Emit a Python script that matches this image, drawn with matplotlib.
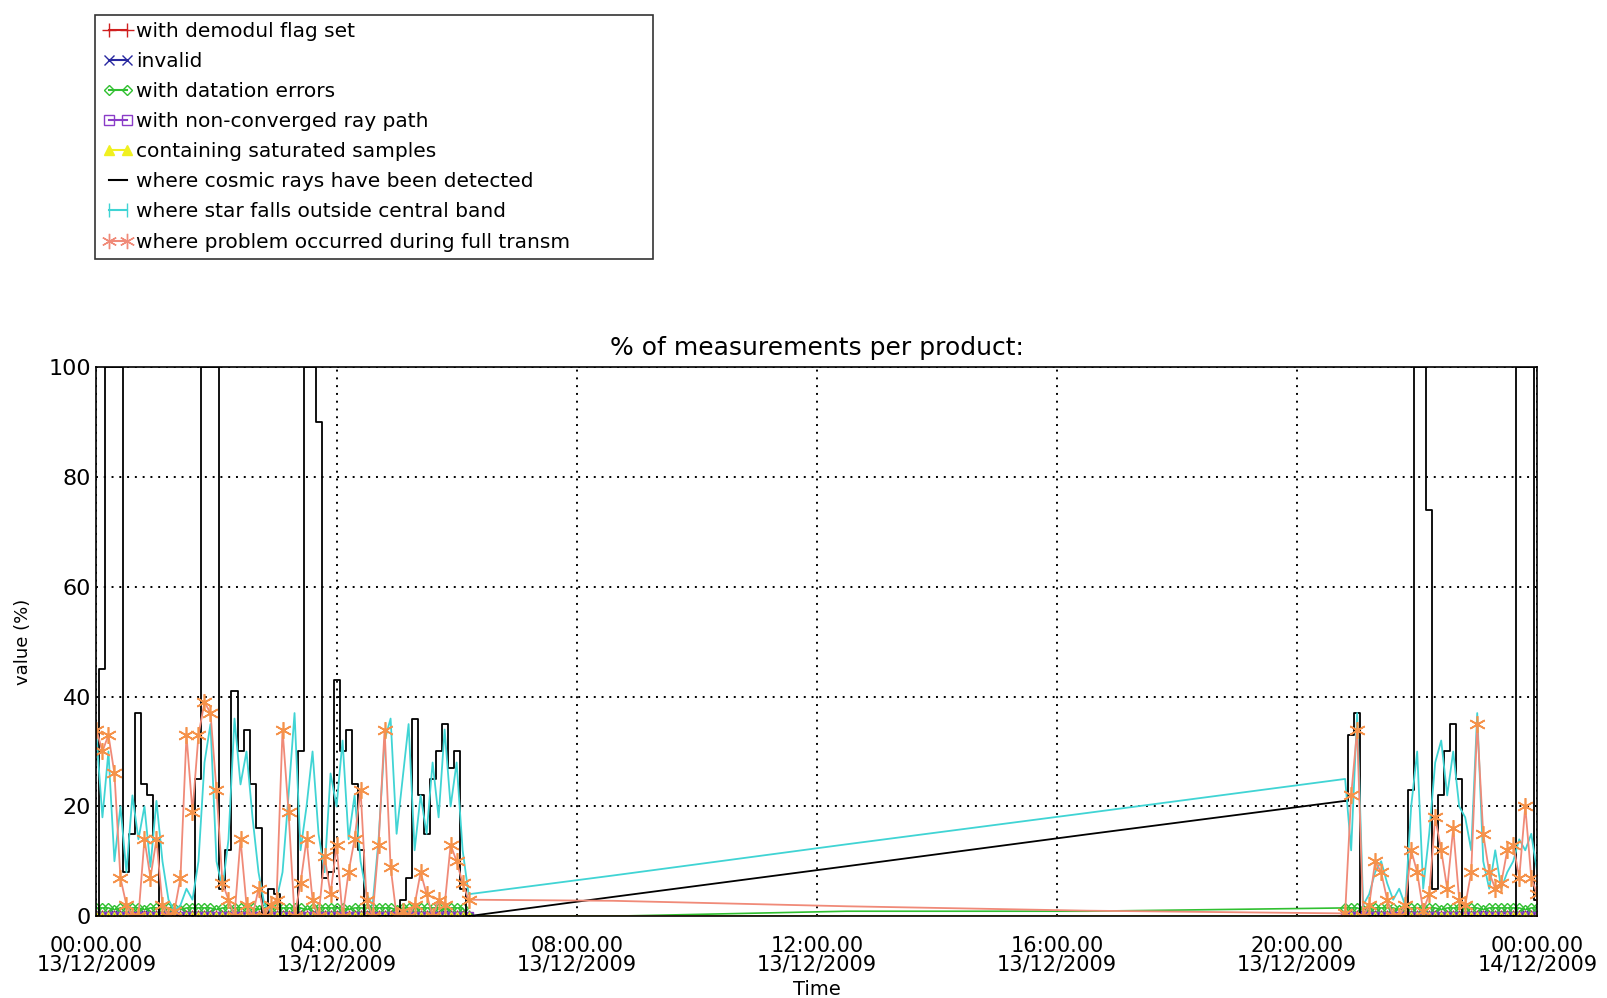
import numpy as np
import pandas as pd
import matplotlib
matplotlib.use("Agg")
import matplotlib.pyplot as plt
import matplotlib.dates as mdates
from matplotlib.lines import Line2D

# sample times (hours after 13/12/2009 00:00) - first pass, data gap, second pass
t1 = [0.0, 0.1, 0.2, 0.3, 0.4, 0.5, 0.6, 0.7, 0.8, 0.9,
      1.0, 1.1, 1.2, 1.3, 1.4, 1.5, 1.6, 1.7, 1.8, 1.9,
      2.0, 2.1, 2.2, 2.3, 2.4, 2.5, 2.6, 2.7, 2.8, 2.9,
      3.0, 3.1, 3.2, 3.3, 3.4, 3.5, 3.6, 3.7, 3.8, 3.9,
      4.0, 4.1, 4.2, 4.3, 4.4, 4.5, 4.6, 4.7, 4.8, 4.9,
      5.0, 5.1, 5.2, 5.3, 5.4, 5.5, 5.6, 5.7, 5.8, 5.9,
      6.0, 6.1, 6.2]
tg = [8.6, 12.5, 16.5]
t2 = [20.8, 20.9, 21.0, 21.1, 21.2, 21.3, 21.4, 21.5, 21.6, 21.7,
      21.8, 21.9, 22.0, 22.1, 22.2, 22.3, 22.4, 22.5, 22.6, 22.7,
      22.8, 22.9, 23.0, 23.1, 23.2, 23.3, 23.4, 23.5, 23.6, 23.7,
      23.8, 23.9, 24.0]

# where cosmic rays have been detected
cosmic1 = [0, 45, 100, 100, 100, 8, 15, 37, 24, 22,
           14, 0, 0, 0, 0, 0, 0, 25, 100, 100,
           100, 5, 12, 41, 30, 34, 24, 16, 0, 5,
           4, 0, 0, 0, 30, 100, 100, 90, 7, 8,
           43, 30, 34, 24, 12, 0, 0, 0, 0, 0,
           0, 3, 7, 36, 22, 15, 25, 30, 35, 27,
           30, 5, 0]
cosmicg = [3.5, 9.1, 14.9]
cosmic2 = [21, 33, 37, 0, 0, 0, 0, 0, 0, 0,
           0, 23, 100, 100, 74, 5, 22, 30, 35, 25,
           0, 0, 0, 0, 0, 0, 0, 0, 0, 100,
           100, 100, 3]

# where star falls outside central band
star1 = [33, 18, 30, 10, 20, 8, 22, 14, 20, 9,
         21, 10, 3, 1, 2, 5, 3, 10, 28, 35,
         10, 5, 14, 36, 24, 30, 18, 8, 2, 1,
         3, 8, 22, 37, 12, 20, 30, 15, 8, 26,
         20, 32, 14, 22, 10, 4, 2, 14, 32, 36,
         15, 25, 35, 12, 22, 15, 28, 18, 34, 20,
         28, 12, 4]
starg = [7.4, 13.1, 18.8]
star2 = [25, 12, 37, 2, 4, 8, 10, 6, 3, 5,
         2, 20, 30, 5, 15, 28, 32, 22, 30, 20,
         18, 12, 37, 10, 5, 12, 5, 8, 10, 14,
         12, 15, 8]

# where problem occurred during full transm
transm1 = [34, 30, 33, 26, 7, 2, 0, 0, 14, 7,
           14, 2, 0, 1, 7, 33, 19, 33, 39, 37,
           23, 6, 3, 0, 14, 2, 0, 5, 0, 2,
           3, 34, 19, 0, 6, 14, 3, 0, 11, 4,
           13, 0, 8, 14, 23, 3, 0, 13, 34, 9,
           0, 1, 0, 2, 8, 4, 0, 3, 2, 13,
           10, 6, 3]
transmg = [2.8, 1.8, 1.0]
transm2 = [0.5, 22, 34, 0, 2, 10, 8, 3, 0, 0,
           2, 12, 8, 1, 4, 18, 12, 5, 16, 3,
           2, 8, 35, 15, 8, 5, 6, 12, 13, 7,
           20, 7, 4]

# with datation errors
datation1 = [1.5, 1.5, 1.5, 1.2, 1.5, 1.5, 1.5, 1.5, 1.2, 1.5,
             1.5, 1.5, 1.5, 1.5, 1.2, 1.5, 1.5, 1.5, 1.5, 1.5,
             1.2, 1.5, 1.5, 1.5, 1.5, 1.5, 1.5, 1.2, 1.5, 1.5,
             1.5, 1.5, 1.5, 1.5, 1.5, 1.2, 1.5, 1.5, 1.5, 1.5,
             1.5, 1.5, 1.2, 1.5, 1.5, 1.5, 1.5, 1.5, 1.5, 1.5,
             1.2, 1.5, 1.5, 1.5, 1.5, 1.5, 1.5, 1.5, 1.2, 1.5,
             1.5, 1.5, 0.0]
datationg = [0.0, 0.9, 0.9]
datation2 = [1.5, 1.5, 1.5, 1.2, 1.5, 1.5, 1.5, 1.5, 1.5, 1.2,
             1.5, 1.5, 1.5, 1.5, 1.5, 1.5, 1.2, 1.5, 1.5, 1.5,
             1.5, 1.5, 1.5, 1.2, 1.5, 1.5, 1.5, 1.5, 1.5, 1.5,
             1.2, 1.5, 1.5]

# invalid
invalid1 = [0.5, 0, 0, 0.5, 0, 0, 0, 0, 0.5, 0,
            0, 0, 0.5, 0, 0, 0.5, 0, 0, 0, 0.5,
            0, 0, 0, 0.5, 0, 0, 0, 0, 0.5, 0,
            0, 0.5, 0, 0, 0, 0, 0.5, 0, 0, 0,
            0.5, 0, 0, 0, 0, 0.5, 0, 0, 0, 0.5,
            0, 0, 0, 0.5, 0, 0, 0, 0, 0.5, 0,
            0, 0.5, 0]
invalidg = [0, 0, 0]
invalid2 = [0, 0, 0, 0.5, 0, 0.5, 0, 0, 0.5, 0,
            0, 0.5, 0, 0, 0, 0.5, 0, 0, 0, 0,
            0.5, 0, 0, 0.5, 0, 0, 0.5, 0.5, 0, 0,
            0.5, 0, 0.5]

# with demodul flag set / non-converged ray path / saturated samples
demodul1 = [0] * len(t1)
demodulg = [0, 0, 0]
demodul2 = [0] * len(t2)
nonconv1 = [0] * len(t1)
nonconvg = [0, 0, 0]
nonconv2 = [0] * len(t2)
saturated1 = [0] * len(t1)
saturatedg = [0, 0, 0]
saturated2 = [0] * len(t2)

base = pd.Timestamp("2009-12-13 00:00:00")
hours = t1 + tg + t2
times = base + pd.to_timedelta(hours, unit="h")
n1, ng = len(t1), len(tg)
marked = list(range(n1)) + list(range(n1 + ng, len(hours)))

C_RED = "#d02020"
C_BLUE = "#2828a0"
C_GREEN = "#30c030"
C_PURPLE = "#8a3cc8"
C_YELLOW = "#f0f020"
C_CYAN = "#40d4d4"
C_SALMON = "#f08a78"
C_AST = "#f5924a"

fig = plt.figure(figsize=(16.07, 9.98), dpi=100)
ax = fig.add_axes([0.060, 0.082, 0.8966, 0.550])

ax.plot(times, demodul1 + demodulg + demodul2, color=C_RED, lw=1.2,
        marker="+", ms=8, markevery=marked)
ax.plot(times, invalid1 + invalidg + invalid2, color=C_BLUE, lw=1.2,
        marker="x", ms=6, markevery=marked)
ax.plot(times, datation1 + datationg + datation2, color=C_GREEN, lw=1.2,
        marker="D", ms=5, mfc="none", markevery=marked)
ax.plot(times, nonconv1 + nonconvg + nonconv2, color=C_PURPLE, lw=1.2,
        marker="s", ms=6, mfc="none", markevery=marked)
ax.plot(times, saturated1 + saturatedg + saturated2, color=C_YELLOW, lw=1.2,
        marker="^", ms=6, mfc="none", markevery=marked)

# cosmic rays: histogram style on the passes, straight line over the gap
cosmic = cosmic1 + cosmicg + cosmic2
ax.plot(times[:n1], cosmic1, color="black", lw=1.3, drawstyle="steps-mid")
ax.plot(times[n1 + ng:], cosmic2, color="black", lw=1.3, drawstyle="steps-mid")
ax.plot(times[n1 - 1:n1 + ng + 1], cosmic[n1 - 1:n1 + ng + 1], color="black", lw=1.3)

ax.plot(times, star1 + starg + star2, color=C_CYAN, lw=1.3)
ax.plot(times, transm1 + transmg + transm2, color=C_SALMON, lw=1.3,
        marker=(6, 2, 0), ms=12, mec=C_AST, mew=1.2, markevery=marked)

ax.set_xlim(base, base + pd.Timedelta(hours=24))
ax.set_ylim(0, 100)
ax.xaxis.set_major_locator(mdates.HourLocator(byhour=range(0, 24, 4)))
ax.xaxis.set_major_formatter(mdates.DateFormatter("%H:%M.%S\n%d/%m/%Y"))
ax.set_yticks([0, 20, 40, 60, 80, 100])
ax.grid(True, color="black", linestyle=(0, (1, 3)), linewidth=1.4)
ax.tick_params(axis="x", length=0, labelsize=15, pad=14)
ax.tick_params(axis="y", length=0, labelsize=16, pad=4)
for lab in ax.get_xticklabels():
    lab.set_linespacing(0.95)
for sp in ax.spines.values():
    sp.set_linewidth(1.2)

ax.set_title("% of measurements per product:", fontsize=18, pad=9)
ax.set_xlabel("Time", fontsize=14, labelpad=4)
ax.set_ylabel("value (%)", fontsize=13, labelpad=12)

handles = [
    Line2D([], [], color=C_RED, marker="+", ms=10),
    Line2D([], [], color=C_BLUE, marker="x", ms=7),
    Line2D([], [], color=C_GREEN, marker="D", ms=5, mfc="none"),
    Line2D([], [], color=C_PURPLE, marker="s", ms=7, mfc="none"),
    Line2D([], [], color=C_YELLOW, marker="^", ms=7),
    Line2D([], [], color="black"),
    Line2D([], [], color=C_CYAN, marker="|", ms=10),
    Line2D([], [], color=C_SALMON, marker=(6, 2, 0), ms=11),
]
labels = [
    "with demodul flag set",
    "invalid",
    "with datation errors",
    "with non-converged ray path",
    "containing saturated samples",
    "where cosmic rays have been detected",
    "where star falls outside central band",
    "where problem occurred during full transm",
]
leg = fig.legend(handles, labels, loc="upper left",
                 bbox_to_anchor=(0.0594, 0.975, 0.3471, 0.01),
                 mode="expand", fontsize=14.5, frameon=True, fancybox=False,
                 edgecolor="black", borderaxespad=0, borderpad=0.35,
                 handlelength=1.5, handletextpad=0.15, labelspacing=0.55,
                 numpoints=2)
leg.get_frame().set_linewidth(1.2)

fig.savefig("out.png", dpi=100)
